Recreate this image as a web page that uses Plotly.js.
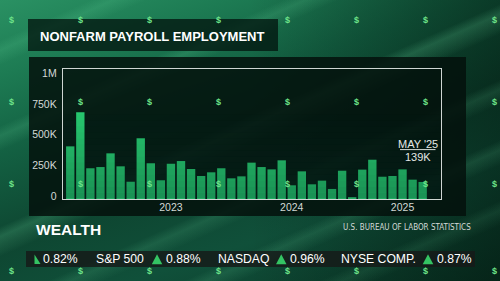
<!DOCTYPE html>
<html><head><meta charset="utf-8">
<script src="https://cdn.plot.ly/plotly-3.0.1.min.js"></script>
<style>
html,body{margin:0;padding:0;width:500px;height:281px;overflow:hidden;}
body{
background:
 linear-gradient(156deg, rgba(0,0,0,0) 8%, rgba(120,240,175,0.13) 10%, rgba(0,0,0,0) 13%, rgba(0,0,0,0) 25%, rgba(120,240,175,0.14) 27%, rgba(0,0,0,0) 30%, rgba(0,0,0,0) 45%, rgba(120,240,175,0.18) 47%, rgba(120,240,175,0.05) 50%, rgba(0,0,0,0) 51%, rgba(0,0,0,0) 60%, rgba(120,240,175,0.12) 62%, rgba(0,0,0,0) 65%, rgba(0,0,0,0) 72%, rgba(120,240,175,0.12) 74%, rgba(0,0,0,0) 77%, rgba(0,0,0,0) 84%, rgba(120,240,175,0.09) 86%, rgba(0,0,0,0) 89%),
 linear-gradient(90deg, rgba(0,0,0,0) 50%, rgba(0,14,8,0.45) 100%),
 linear-gradient(162deg, #2a9163 0%, #1d7b53 17%, #136042 35%, #0e4631 55%, #10503a 73%, #0a3626 100%);
}
#chart{width:500px;height:281px;}
</style></head><body><div id="chart"></div>
<script>
// ---- data ----
const months = ['Jun 2022','Jul 2022','Aug 2022','Sep 2022','Oct 2022','Nov 2022','Dec 2022',
  'Jan 2023','Feb 2023','Mar 2023','Apr 2023','May 2023','Jun 2023','Jul 2023','Aug 2023','Sep 2023','Oct 2023','Nov 2023','Dec 2023',
  'Jan 2024','Feb 2024','Mar 2024','Apr 2024','May 2024','Jun 2024','Jul 2024','Aug 2024','Sep 2024','Oct 2024','Nov 2024','Dec 2024',
  'Jan 2025','Feb 2025','Mar 2025','Apr 2025','May 2025'];
const payrollsK = [430, 708, 251, 261, 373, 267, 141,
  496, 292, 153, 288, 310, 245, 188, 218, 251, 169, 185, 297,
  261, 242, 316, 112, 226, 120, 150, 82, 231, 16, 240, 321,
  182, 188, 242, 158, 139];
const yTickVals = [0, 250, 500, 750, 1000];
const yTickText = ['0', '250K', '500K', '750K', '1M'];
const yearTickVals = ['Apr 2023', 'Apr 2024', 'Mar 2025'];
const yearTickText = ['2023', '2024', '2025'];
const chartTitle = 'NONFARM PAYROLL EMPLOYMENT';
const calloutMonth = "MAY '25";
const calloutValue = '139K';
const brand = 'WEALTH';
const source = 'U.S. BUREAU OF LABOR STATISTICS';
const tickerNames = ['S&P 500', 'NASDAQ', 'NYSE COMP.'];
const tickerChanges = ['0.82%', '0.88%', '0.96%', '0.87%'];

// ---- layout helpers (pixel -> paper) ----
const L = 63, R = 441, T = 69, B = 199;
const px = x => (x - L) / (R - L);
const py = y => (B - y) / (B - T);
const FONT = '"Liberation Sans", Arial, sans-serif';

const shapes = [];
function rect(x0, y0, x1, y1, color, layer) {
  shapes.push({type: 'rect', xref: 'paper', yref: 'paper', x0: px(x0), x1: px(x1), y0: py(y1), y1: py(y0),
    line: {width: 0}, fillcolor: color, layer: layer || 'below'});
}
// panels
rect(28, 19, 278, 51, 'rgba(3,22,15,0.78)');
rect(29, 57, 466, 216, 'rgba(3,17,12,0.85)');
rect(26, 251, 475, 267, 'rgba(22,26,24,0.82)');
// bar shading overlay (vertical gradient)
for (let i = 0; i < 14; i++) {
  const y0 = 198.4 - i * 6, y1 = y0 - 6;
  rect(L + 1, y1, R - 1, y0, 'rgba(4,40,34,' + (0.34 * (1 - i / 14)).toFixed(3) + ')', 'above');
}
// callout underline
shapes.push({type: 'line', xref: 'paper', yref: 'paper', x0: px(400), x1: px(435.5), y0: py(149.6), y1: py(149.6),
  line: {color: '#d9dedb', width: 1}, layer: 'above'});
// ticker triangles
function tri(x0, x1, y0, y1) {
  const xm = (x0 + x1) / 2;
  shapes.push({type: 'path', xref: 'paper', yref: 'paper',
    path: `M${px(x0)},${py(y1)} L${px(x1)},${py(y1)} L${px(xm)},${py(y0)} Z`,
    fillcolor: '#34c463', line: {width: 0}, layer: 'above'});
}
shapes.push({type: 'path', xref: 'paper', yref: 'paper',
  path: `M${px(34.5)},${py(254.5)} L${px(34.5)},${py(264)} L${px(40.5)},${py(264)} Z`,
  fillcolor: '#34c463', line: {width: 0}, layer: 'above'});
tri(151.8, 162.3, 254.3, 264.2);
tri(276, 286.5, 254.3, 264.2);
tri(422.7, 433.3, 254.3, 264.2);

const annotations = [];
function txt(text, x, y, size, opts) {
  opts = opts || {};
  annotations.push({text: text, xref: 'paper', yref: 'paper', x: px(x), y: py(y),
    showarrow: false, xanchor: opts.xa || 'left', yanchor: 'middle', borderpad: 0,
    font: {family: opts.family || FONT, size: size, color: opts.color || '#ffffff', weight: opts.weight || 'normal'}});
}
txt(chartTitle, 152, 36, 13, {xa: 'center', weight: 'bold'});
txt(calloutMonth, 418.3, 143.5, 11, {xa: 'center', color: '#e4e8e6'});
txt(calloutValue, 418.2, 156.8, 11, {xa: 'center', color: '#e4e8e6'});
txt(brand, 35, 229, 15.5, {weight: 'bold'});
txt(source, 472, 227.5, 8, {xa: 'right', color: '#d4dad7', family: '"Liberation Sans Narrow", "DejaVu Sans Condensed", "Liberation Sans", sans-serif'});
// ticker
txt(tickerChanges[0], 42, 259.3, 12.2);
txt(tickerNames[0], 95, 259.3, 12.2);
txt(tickerChanges[1], 165, 259.3, 12.2);
txt(tickerNames[1], 217, 259.3, 12.2);
txt(tickerChanges[2], 289, 259.3, 12.2);
txt(tickerNames[2], 340, 259.3, 12.2);
txt(tickerChanges[3], 436, 259.3, 12.2);
// dollar sign pattern
const dollarCols = [11, 80, 149, 218, 287, 356, 425, 494];
const dollarRows = [20, 102, 184, 271];
dollarRows.forEach(r => dollarCols.forEach(c => txt('$', c, r, 9, {xa: 'center', color: '#6fe38a', weight: 'bold'})));

const trace = {
  type: 'bar', x: months, y: payrollsK,
  marker: {color: '#27c86f', line: {width: 0}},
  hoverinfo: 'skip'
};

const layout = {
  width: 500, height: 281,
  margin: {l: L, r: 500 - R, t: T, b: 281 - B, pad: 0},
  paper_bgcolor: 'rgba(0,0,0,0)', plot_bgcolor: 'rgba(0,0,0,0)',
  showlegend: false, bargap: 0.17,
  xaxis: {type: 'category', range: [-0.72, 36.82], tickvals: yearTickVals, ticktext: yearTickText,
    showgrid: false, zeroline: false, showline: true, mirror: true, linecolor: '#cfd6d3', linewidth: 1.2,
    ticks: '', ticklabelstandoff: -2,
    tickfont: {family: FONT, size: 10.5, color: '#d3d9d6'}},
  yaxis: {range: [0, 1062], tickvals: yTickVals, ticktext: yTickText,
    showgrid: false, zeroline: false, showline: true, mirror: true, linecolor: '#cfd6d3', linewidth: 1.2,
    ticks: '', ticklabelshift: -3, ticklabelstandoff: 3,
    tickfont: {family: FONT, size: 10.5, color: '#d3d9d6'}},
  shapes: shapes,
  annotations: annotations
};

Plotly.newPlot('chart', [trace], layout, {displayModeBar: false, staticPlot: true});
</script>
</body></html>
